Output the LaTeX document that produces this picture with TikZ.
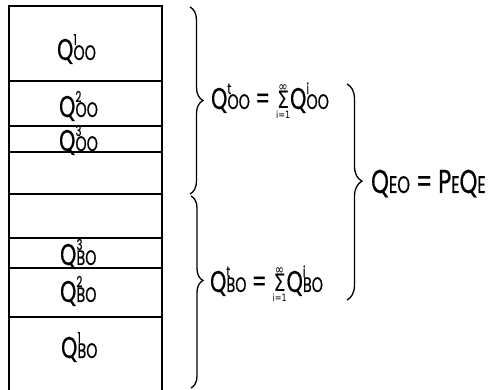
\documentclass[tikz,border=0pt]{standalone}
\usepackage{fontspec}
\setmainfont{Poppins}[FakeStretch=0.68,FakeBold=0.6]
\newfontfamily\sigf{DejaVu Sans}[FakeStretch=0.8]
\usetikzlibrary{decorations.pathreplacing}
\newcommand\Qx[2]{Q\kern0.2pt\rlap{\raisebox{15pt}{\fontsize{15}{15}\selectfont #1}}{\fontsize{21}{21}\selectfont #2}}
\newsavebox\sigbox
\newcommand\Sig{\sbox\sigbox{\sigf\fontsize{24}{24}\selectfont Σ}%
  \kern1.5pt\rlap{\makebox[\wd\sigbox]{\raisebox{17pt}{\sigf\fontsize{14}{14}\selectfont ∞}}}%
  \rlap{\makebox[\wd\sigbox]{\raisebox{-10pt}{\sigf\fontsize{10}{10}\selectfont i=1}}}%
  \usebox\sigbox\kern1pt}
\begin{document}
\begin{tikzpicture}[x=1pt,y=-1pt,
  boxline/.style={line width=1.6pt},
  cellline/.style={line width=1.3pt},
  lbl/.style={anchor=base west,inner sep=0pt,font=\fontsize{30}{30}\selectfont},
  brc/.style={decorate,line width=1.3pt,decoration={brace,amplitude=#1}}]
\useasboundingbox (0,0) rectangle (488,390);
% box
\coordinate (tl) at (9,6);
\coordinate (tr) at (162,6);
\coordinate (bl) at (9,392);
\coordinate (br) at (162,392);
\draw[boxline] (bl) -- (tl) -- (tr) -- (br);
\foreach \y/\n in {81/a,126/b,152/c,194/d,238/e,268/f,317/g}{
  \coordinate (l\n) at (9,\y);
  \coordinate (r\n) at (162,\y);
  \draw[cellline] (l\n) -- (r\n);
}
% cell labels
\node[lbl] (q1oo) at (57,60) {\Qx{1}{OO}};
\node[lbl] (q2oo) at (59,117) {\Qx{2}{OO}};
\node[lbl] (q3oo) at (59,151) {\Qx{3}{OO}};
\node[lbl] (q3bo) at (60,265) {\Qx{3}{BO}};
\node[lbl] (q2bo) at (60,302) {\Qx{2}{BO}};
\node[lbl] (q1bo) at (61,358) {\Qx{1}{BO}};
% braces
\coordinate (ua) at (190,7);
\coordinate (ub) at (190,194);
\coordinate (la) at (191,196);
\coordinate (lb) at (191,388);
\coordinate (ra) at (347,84);
\coordinate (rb) at (347,300);
\draw[brc=13pt] (ua) -- (ub);
\draw[brc=12pt,decoration={aspect=0.44}] (la) -- (lb);
\draw[brc=15pt,decoration={aspect=0.45}] (ra) -- (rb);
% formulas
\node[lbl] (ftop) at (211,109) {\Qx{t}{OO} = \Sig\Qx{i}{OO}};
\node[lbl] (fbot) at (210,292) {\Qx{t}{BO} = \Sig\Qx{i}{BO}};
\node[lbl,font=\fontsize{33}{33}\selectfont] (feo) at (371,193)
  {Q{\fontsize{24}{24}\selectfont EO} = P{\fontsize{24}{24}\selectfont E}Q{\fontsize{24}{24}\selectfont E}};
\end{tikzpicture}
\end{document}
